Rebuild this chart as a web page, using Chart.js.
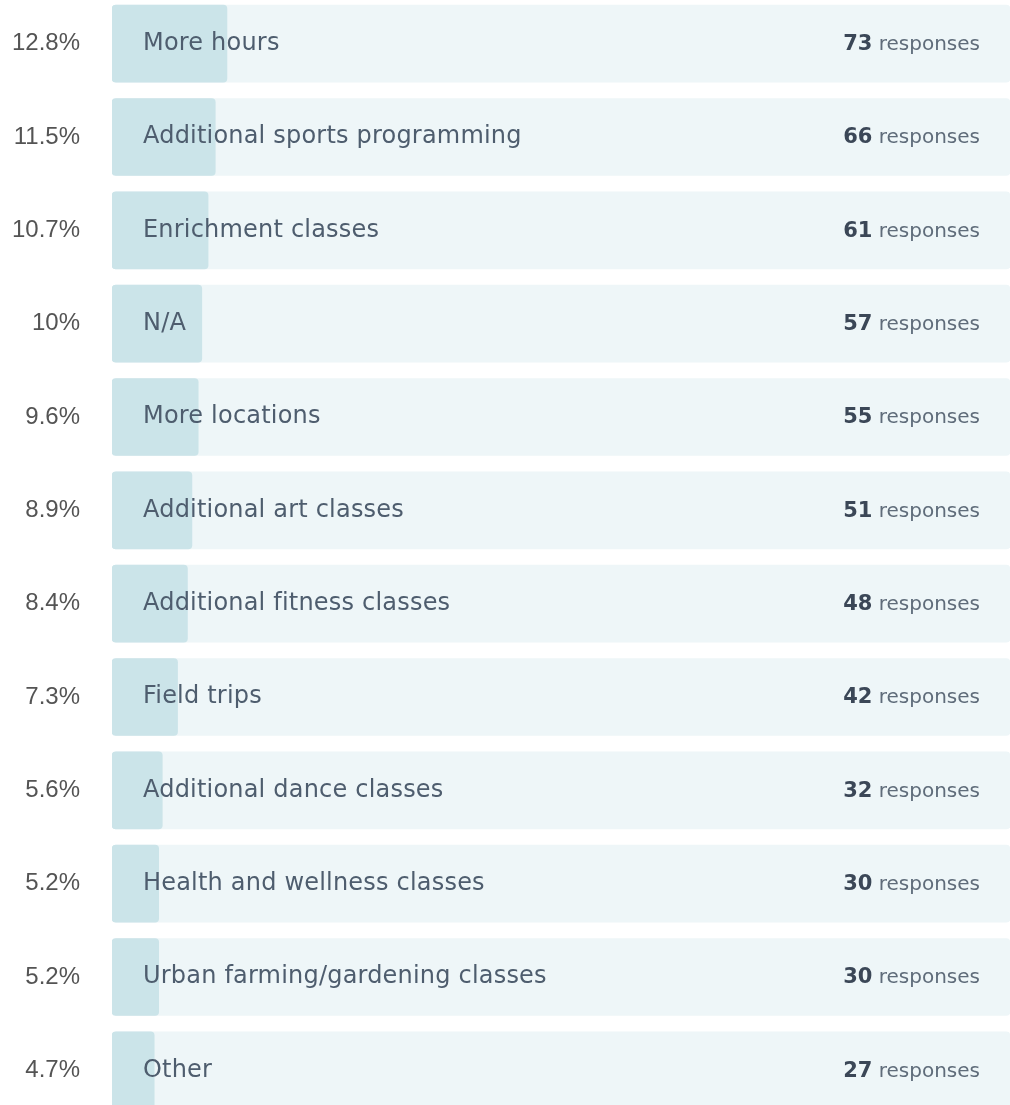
<!DOCTYPE html>
<html>
<head>
<meta charset="utf-8">
<script src="https://cdn.jsdelivr.net/npm/chart.js@4"></script>
<style>
  html, body { margin: 0; padding: 0; background: #fff; overflow: hidden; }
  #chart { position: absolute; left: 0; top: -3px; }
</style>
</head>
<body>
<canvas id="chart" width="1010" height="1120"></canvas>
<script>
var categories = [
	'More hours',
	'Additional sports programming',
	'Enrichment classes',
	'N/A',
	'More locations',
	'Additional art classes',
	'Additional fitness classes',
	'Field trips',
	'Additional dance classes',
	'Health and wellness classes',
	'Urban farming/gardening classes',
	'Other'
];
var percents = [12.8, 11.5, 10.7, 10, 9.6, 8.9, 8.4, 7.3, 5.6, 5.2, 5.2, 4.7];
var percentLabels = ['12.8%', '11.5%', '10.7%', '10%', '9.6%', '8.9%', '8.4%', '7.3%', '5.6%', '5.2%', '5.2%', '4.7%'];
var responses = [73, 66, 61, 57, 55, 51, 48, 42, 32, 30, 30, 27];
var track = categories.map(function() { return 100; });

var pctFont = '"Liberation Sans", Arial, sans-serif';
var textFont = '"DejaVu Sans", sans-serif';

var rowLabels = {
	id: 'rowLabels',
	afterDatasetsDraw: function(chart) {
		var ctx = chart.ctx;
		var area = chart.chartArea;
		var bars = chart.getDatasetMeta(1).data;
		ctx.save();
		ctx.textBaseline = 'middle';
		bars.forEach(function(bar, i) {
			var y = bar.y;

			// percentage on the left
			ctx.letterSpacing = '0px';
			ctx.font = '24px ' + pctFont;
			ctx.fillStyle = '#545454';
			ctx.textAlign = 'right';
			ctx.fillText(percentLabels[i], 80, y);

			// category name inside the track
			ctx.letterSpacing = '0.2px';
			ctx.font = '24px ' + textFont;
			ctx.fillStyle = '#4e5d6e';
			ctx.textAlign = 'left';
			ctx.fillText(categories[i], area.left + 31, y);

			// response count on the right
			ctx.letterSpacing = '0px';
			ctx.textAlign = 'right';
			ctx.font = '20px ' + textFont;
			ctx.fillStyle = '#5f6c7a';
			var word = ' responses';
			var right = area.right - 30;
			ctx.fillText(word, right, y + 1);
			var w = ctx.measureText(word).width;
			ctx.font = 'bold 21px ' + textFont;
			ctx.fillStyle = '#3b4757';
			ctx.fillText(String(responses[i]), right - w, y + 1);
		});
		ctx.restore();
	}
};

new Chart(document.getElementById('chart'), {
	type: 'bar',
	data: {
		labels: categories,
		datasets: [
			{
				data: track,
				backgroundColor: '#eef6f8',
				borderRadius: 4,
				borderSkipped: false,
				barThickness: 77,
				grouped: false,
				order: 2
			},
			{
				data: percents,
				backgroundColor: '#cbe4e9',
				borderRadius: 4,
				borderSkipped: false,
				barThickness: 77,
				grouped: false,
				order: 1
			}
		]
	},
	options: {
		indexAxis: 'y',
		responsive: false,
		animation: false,
		layout: { padding: { left: 112, right: 0, top: 0, bottom: 0 } },
		plugins: {
			legend: { display: false },
			tooltip: { enabled: false }
		},
		scales: {
			x: { min: 0, max: 100, display: false },
			y: { display: false }
		}
	},
	plugins: [rowLabels]
});
</script>
</body>
</html>
